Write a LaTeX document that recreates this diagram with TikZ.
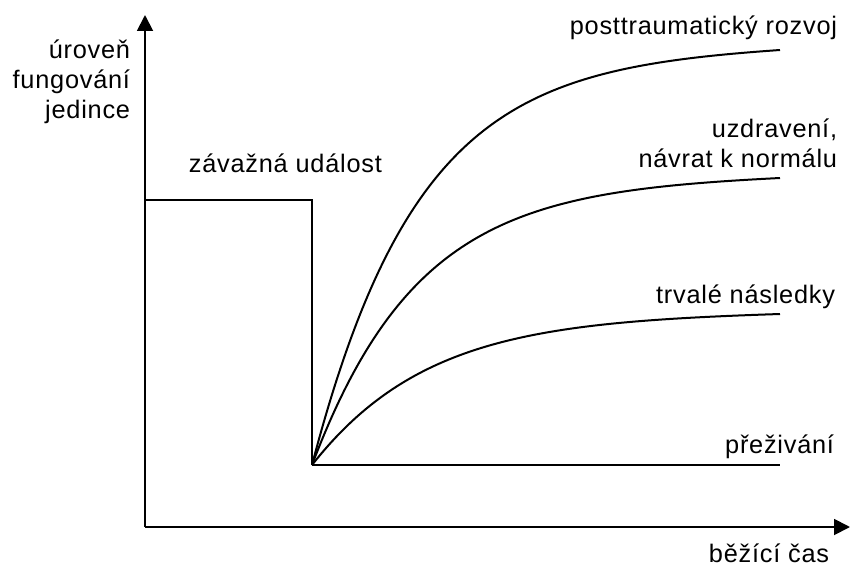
\documentclass[tikz,border=0pt]{standalone}
\usepackage{fontspec}
\setmainfont{Liberation Sans}[LetterSpace=3]
\usetikzlibrary{arrows.meta}

\tikzset{every picture/.style={line width=1.4pt}}
\tikzset{
  axis/.style={-{Triangle[length=12pt,width=12pt]}},
  curve/.style={line width=1.5pt},
  label/.style={inner sep=0pt,font=\fontsize{19}{22.5}\selectfont}
}

\begin{document}
\begin{tikzpicture}[x=0.75pt,y=0.75pt,yscale=-1,xscale=1]
\useasboundingbox (0,0) rectangle (850,567);

% Axes
\coordinate (origin) at (145,527);
\coordinate (ytip) at (145,15);
\coordinate (xtip) at (850,527);
\draw [axis] (origin) -- (ytip);
\draw [axis] (origin) -- (xtip);

%Step [id:step]
\coordinate (before) at (145,200);
\coordinate (event) at (312,200);
\coordinate (drop) at (312,465);
\draw (before) -- (event) -- (drop);

%Curves [id:curves]
\coordinate (growth) at (780,50);
\coordinate (recovery) at (780,178);
\coordinate (lasting) at (780,314);
\coordinate (survival) at (780,465);
\draw [curve] (drop) .. controls (406,106) and (523,68) .. (growth);
\draw [curve] (drop) .. controls (406,217) and (523,191) .. (recovery);
\draw [curve] (drop) .. controls (412,338) and (535,322) .. (lasting);
\draw [curve] (drop) -- (survival);

% Text Node
\node (level) [label,anchor=base east,align=right] at (131,118) {úroveň\\fungování\\jedince};
% Text Node
\node (eventlbl) [label,anchor=base west] at (188,172) {závažná událost};
% Text Node
\node (growthlbl) [label,anchor=base east] at (838,35) {posttraumatický rozvoj};
% Text Node
\node (recoverylbl) [label,anchor=base east,align=right] at (838,167) {uzdravení,\\návrat k normálu};
% Text Node
\node (lastinglbl) [label,anchor=base east] at (836,303) {trvalé následky};
% Text Node
\node (survivallbl) [label,anchor=base east] at (835,453) {přeživání};
% Text Node
\node (timelbl) [label,anchor=base east] at (830,562) {běžící čas};
\end{tikzpicture}
\end{document}
